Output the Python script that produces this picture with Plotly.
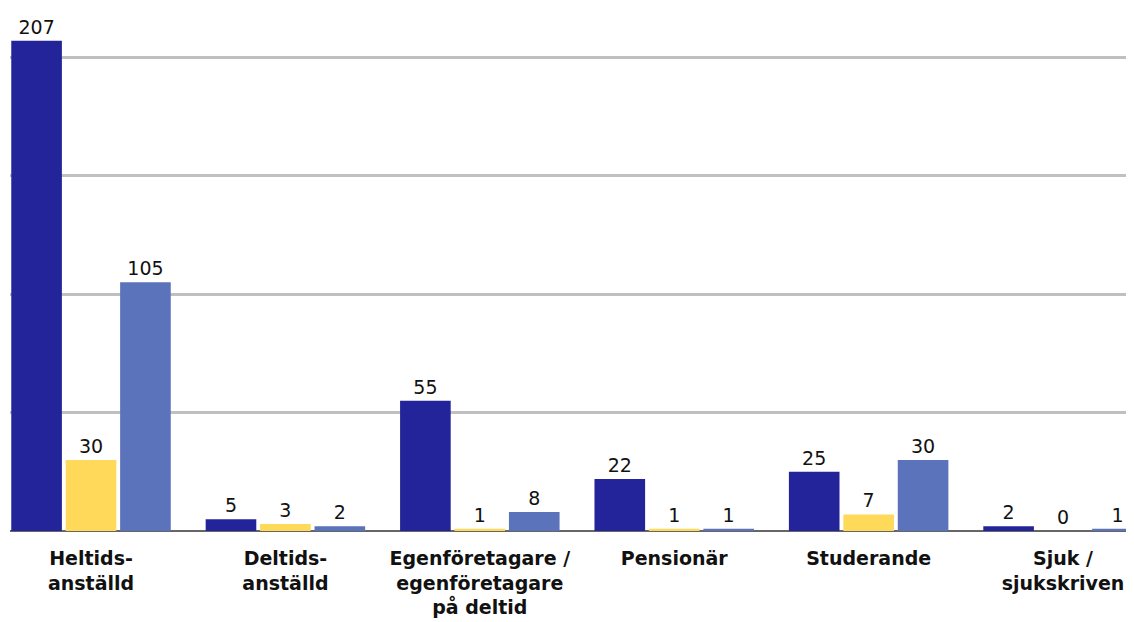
import plotly.graph_objects as go

categories = [
    "Heltids-<br>anställd",
    "Deltids-<br>anställd",
    "Egenföretagare /<br>egenföretagare<br>på deltid",
    "Pensionär",
    "Studerande",
    "Sjuk /<br>sjukskriven",
]
serie_1 = [207, 5, 55, 22, 25, 2]
serie_2 = [30, 3, 1, 1, 7, 0]
serie_3 = [105, 2, 8, 1, 30, 1]

c_dark = "#24249a"
c_yellow = "#ffd95a"
c_mid = "#5a73bb"
font_family = "'DejaVu Sans', sans-serif"

fig = go.Figure()
for name, values, color in [
    ("Serie 1", serie_1, c_dark),
    ("Serie 2", serie_2, c_yellow),
    ("Serie 3", serie_3, c_mid),
]:
    fig.add_trace(
        go.Bar(
            x=categories,
            y=values,
            name=name,
            marker=dict(color=color, line=dict(width=0)),
            text=[str(v) for v in values],
            textposition="outside",
            textfont=dict(size=19, color="#111111", family=font_family),
            cliponaxis=False,
        )
    )

# page body has an 8px margin, so the figure is a bit smaller than the window
fig.update_layout(
    template="plotly_white",
    width=1126,
    height=614,
    margin=dict(l=2, r=0, t=2, b=91, autoexpand=False),
    barmode="group",
    bargap=0.16,
    bargroupgap=0.07,
    showlegend=False,
    plot_bgcolor="white",
    paper_bgcolor="white",
    font=dict(family=font_family, color="#111111"),
)
fig.update_xaxes(
    range=[-0.4167, 5.365],
    automargin=False,
    showgrid=False,
    showline=False,
    ticks="",
    ticklabelstandoff=14,
    tickfont=dict(size=19, family=font_family, color="#111111", weight="bold"),
)
fig.update_yaxes(
    range=[0, 220],
    dtick=50,
    automargin=False,
    showticklabels=False,
    gridcolor="#c0c0c0",
    gridwidth=3,
    zeroline=True,
    zerolinecolor="#666666",
    zerolinewidth=2,
)

fig.write_html("out.html")
